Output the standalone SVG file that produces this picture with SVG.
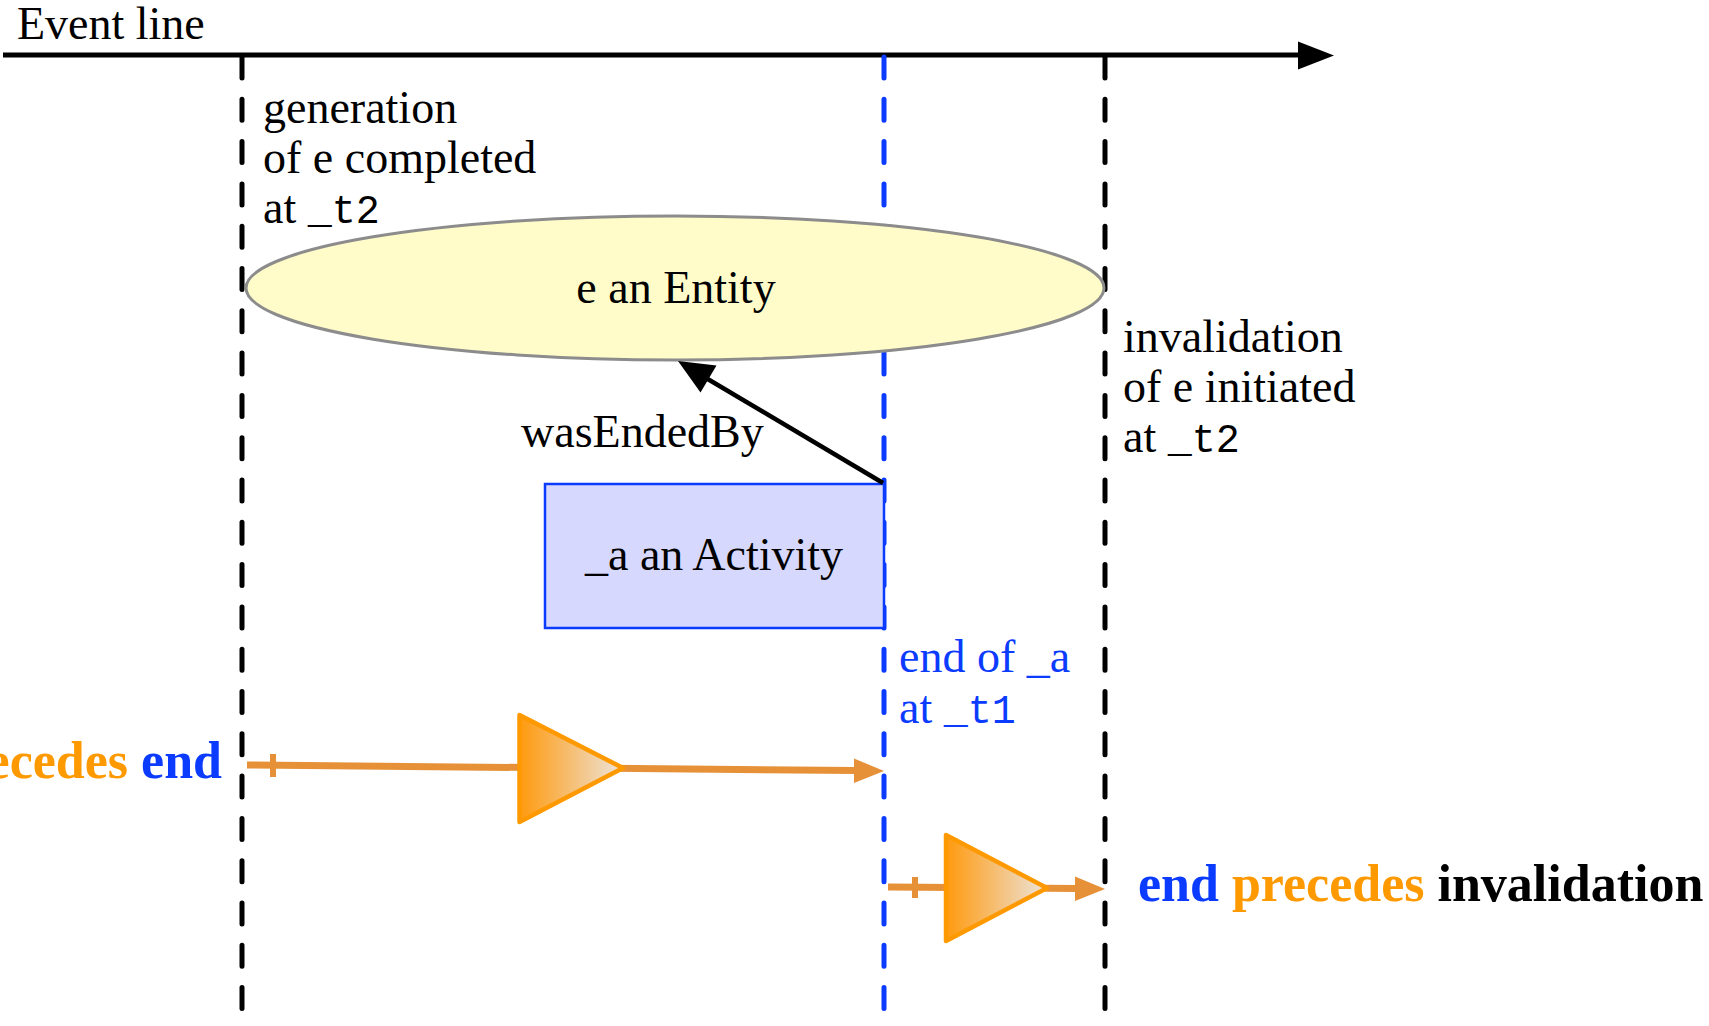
<svg xmlns="http://www.w3.org/2000/svg" width="1709" height="1026" viewBox="0 0 1709 1026">
<style>
.t{font-family:"Liberation Serif","Times New Roman",serif;font-size:46px;fill:#000}
.b{font-family:"Liberation Serif","Times New Roman",serif;font-size:52px;font-weight:bold}
.m{font-family:"Liberation Mono","DejaVu Sans Mono",monospace;font-size:40px}
.blue{fill:#0b3bff}
.orange{fill:#ff9900}
.vd{stroke-width:5;stroke-linecap:round;stroke-dasharray:21 21.3;fill:none}
.prec{stroke:#e69138;stroke-width:7;fill:none}
.tick{stroke:#e69138;stroke-width:6}
.tri{fill:url(#og);stroke:#ff9900;stroke-width:4.5;stroke-linejoin:round}
</style>
<defs>
<linearGradient id="og" x1="0" y1="0" x2="1" y2="0">
<stop offset="0" stop-color="#ff9a0e"/>
<stop offset="1" stop-color="#ece4dc"/>
</linearGradient>
<linearGradient id="gl" x1="0" y1="0" x2="1" y2="0">
<stop offset="0" stop-color="#bbbbbb"/>
<stop offset="1" stop-color="#ffffff"/>
</linearGradient>
</defs>

<g id="timeline">
<line x1="3" y1="55" x2="1300" y2="55" stroke="#000" stroke-width="5"/>
<polygon points="1298,41.5 1334,55.5 1298,69.5" fill="#000"/>
<text class="t" x="17" y="39">Event line</text>
</g>

<g id="event-lines">
<line class="vd" x1="242" y1="57" x2="242" y2="1026" stroke="#000"/>
<line class="vd" x1="884" y1="57" x2="884" y2="1026" stroke="#0b3bff"/>
<line class="vd" x1="1105" y1="57" x2="1105" y2="1026" stroke="#000"/>
<line x1="243" y1="1025" x2="330" y2="1025" stroke="url(#gl)" stroke-width="1.5"/>
</g>

<g id="generation-label">
<text class="t" x="263" y="123">generation</text>
<text class="t" x="263" y="173">of e completed</text>
<text class="t" x="263" y="223">at <tspan class="m">_t2</tspan></text>
</g>

<g id="invalidation-label">
<text class="t" x="1123" y="352">invalidation</text>
<text class="t" x="1123" y="402">of e initiated</text>
<text class="t" x="1123" y="452">at <tspan class="m">_t2</tspan></text>
</g>

<g id="entity">
<ellipse cx="675" cy="288" rx="429" ry="72" fill="#fffcc9" stroke="#8c8c8c" stroke-width="3"/>
<text class="t" x="676" y="303" text-anchor="middle" font-size="47">e an Entity</text>
</g>

<g id="activity">
<rect x="545" y="484" width="339" height="144" fill="#d6d8fd" stroke="#0b3bff" stroke-width="2.5"/>
<text class="t" x="714" y="570" text-anchor="middle" font-size="47">_a an Activity</text>
</g>

<g id="end-label">
<text class="t blue" x="899" y="672">end of _a</text>
<text class="t blue" x="899" y="723">at <tspan class="m">_t1</tspan></text>
</g>

<g id="connectors">
<g id="wasEndedBy">
<line x1="883" y1="483" x2="706" y2="378" stroke="#000" stroke-width="4.5"/>
<polygon points="678,361 700.5,392.5 716.5,365.5" fill="#000"/>
<text class="t" x="521" y="447">wasEndedBy</text>
</g>
<g id="precedes1">
<line class="prec" x1="247" y1="765" x2="856" y2="770.5"/>
<line class="tick" x1="273" y1="754" x2="273" y2="777"/>
<polygon points="854,758.5 884,771 854,783" fill="#e69138"/>
<polygon class="tri" points="519.5,715 519.5,822 623,768"/>
</g>
<g id="precedes2">
<line class="prec" x1="888" y1="887" x2="1077" y2="888.5"/>
<line class="tick" x1="915" y1="877" x2="915" y2="898"/>
<polygon points="1075,876.5 1105,889 1075,901" fill="#e69138"/>
<polygon class="tri" points="946,835 946,941 1047,888"/>
</g>
</g>

<g id="legend">
<text class="b" x="222" y="778" text-anchor="end"><tspan class="orange">precedes</tspan> <tspan class="blue">end</tspan></text>
<text class="b" x="1138" y="901"><tspan class="blue">end</tspan> <tspan class="orange">precedes</tspan> <tspan fill="#000">invalidation</tspan></text>
</g>
</svg>
